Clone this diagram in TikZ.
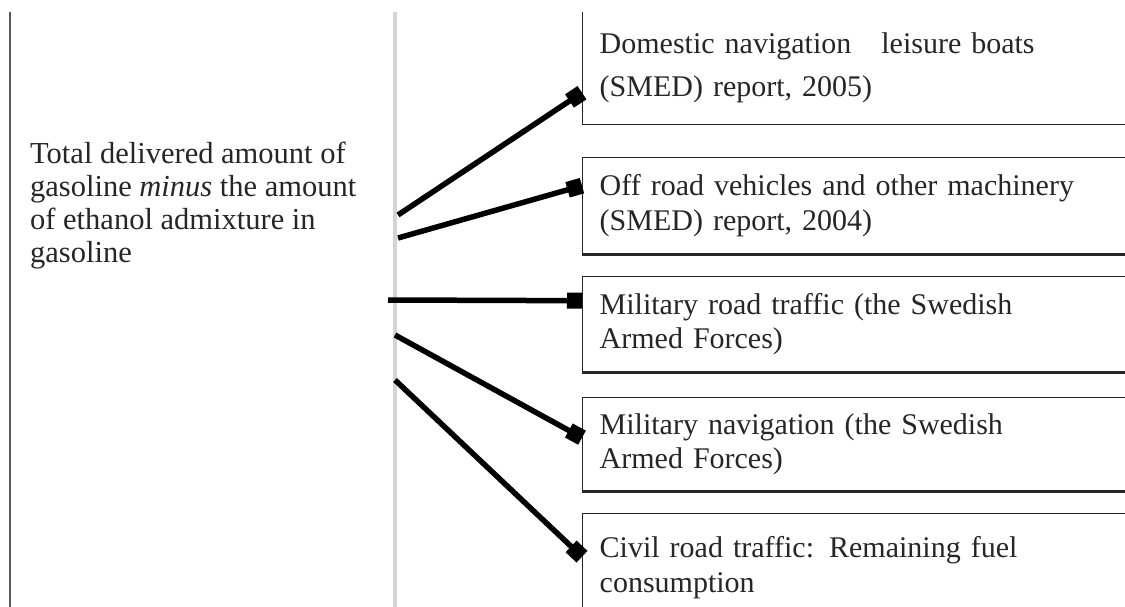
\documentclass[tikz,border=0pt]{standalone}
\usepackage{fontspec}
\setmainfont{Liberation Serif}
\usetikzlibrary{arrows.meta}
\definecolor{rulegray}{HTML}{D4D4D4}
\definecolor{framegray}{HTML}{5A5A5A}
\definecolor{ink}{HTML}{262626}
\tikzset{
  page/.style={x=1pt,y=-1pt},
  txt/.style={font=\fontsize{30}{34.5}\selectfont, text=ink, align=left},
  box/.style={draw=ink, line width=1.4pt, anchor=north west,
    minimum width=600pt, text width=566pt, inner xsep=17pt, inner ysep=0pt,
    txt},
  boxbase/.style={draw=ink, line width=3pt},
  conn/.style={line width=5.5pt, draw=black,
    -{Rectangle[length=15pt,width=16pt]}},
}
\begin{document}
\begin{tikzpicture}[page]
\useasboundingbox (0,0) rectangle (1125,607);
\clip (0,12.5) rectangle (1125,607);

% column rules
\draw[framegray, line width=2.5pt] (10,0) -- (10,620);
\draw[rulegray, line width=4.5pt] (395,0) -- (395,620);

% source text (anchored on the baseline of its last line)
\node[txt, anchor=base west, inner sep=0pt,
      font=\fontsize{30.5}{33}\selectfont] (src) at (30,262)
  {Total delivered amount of\\
   gasoline \textit{minus} the amount\\
   of ethanol admixture in\\
   gasoline};

% target boxes
\node[box, minimum height=113.3pt,
      font=\fontsize{30}{43}\selectfont] (b1) at (582,10.7)
  {Domestic navigation\ \ \ leisure boats\\(SMED) report, 2005)};
\node[box, minimum height=96pt] (b2) at (582,157)
  {Off road vehicles and other machinery\\(SMED) report, 2004)};
\node[box, minimum height=95pt] (b3) at (582,276)
  {Military road traffic (the Swedish\\Armed Forces)};
\node[box, minimum height=93pt] (b4) at (582,397)
  {Military navigation (the Swedish\\Armed Forces)};
\node[box, minimum height=108pt] (b5) at (582,513)
  {Civil road traffic: Remaining fuel\\consumption};

\foreach \b in {b2,b3,b4}
  \draw[boxbase] (\b.south west) -- (\b.south east);

% connector start points at the column rule
\coordinate (s1) at (398,215);
\coordinate (s2) at (398,238);
\coordinate (s3) at (388,300);
\coordinate (s4) at (395,335);
\coordinate (s5) at (395,380);

\draw[conn] (s1) -- ([yshift=-24.6pt]b1.west);
\draw[conn] (s2) -- ([yshift=20pt]b2.west);
\draw[conn] (s3) -- ([yshift=23.5pt]b3.west);
\draw[conn] (s4) -- ([yshift=6.5pt]b4.west);
\draw[conn] (s5) -- ([yshift=11pt]b5.west);
\end{tikzpicture}
\end{document}
